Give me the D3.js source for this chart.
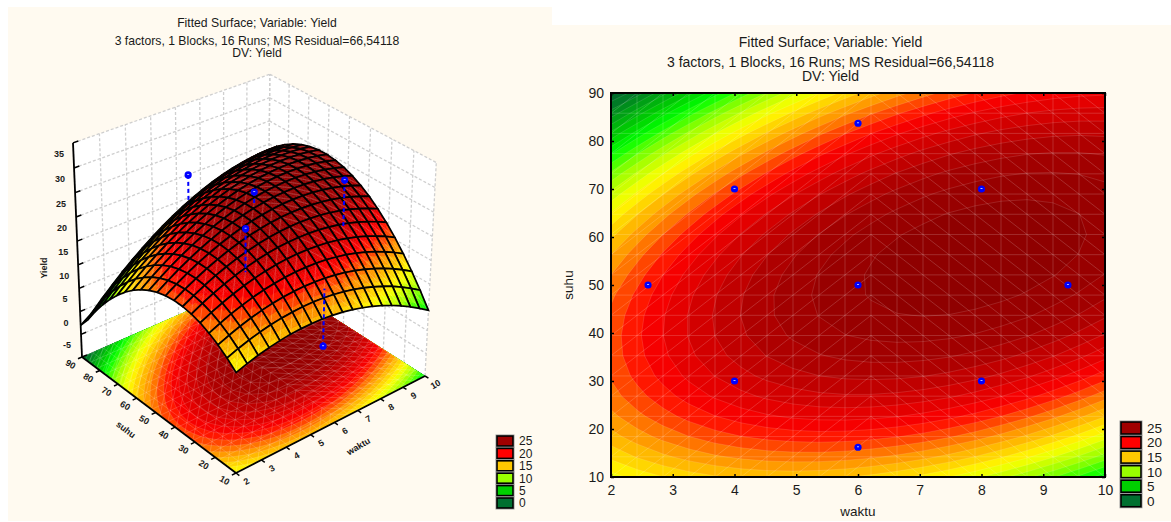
<!DOCTYPE html>
<html>
<head>
<meta charset="utf-8">
<script src="https://cdn.jsdelivr.net/npm/d3@7"></script>
<style>
  html, body { margin: 0; padding: 0; background: #fff; }
  svg { display: block; }
  text { font-family: "Liberation Sans", Arial, sans-serif; fill: #1a1a1a; }
</style>
</head>
<body>
<div class="graph"></div>
<script>
// values
const waktuNodes = 20 // mesh lines along waktu, 2..10
const suhuNodes = 20 // mesh lines along suhu, 10..90
const waktuTicks = [2, 3, 4, 5, 6, 7, 8, 9, 10]
const suhuTicks = [10, 20, 30, 40, 50, 60, 70, 80, 90]
const yieldTicks = [-10, -5, 0, 5, 10, 15, 20, 25, 30, 35]
const yieldLabels = [-5, 0, 5, 10, 15, 20, 25, 30, 35]
const legendValues = [25, 20, 15, 10, 5, 0]
const legendColors = ['#a00000', '#ff0000', '#ffc800', '#99ff00', '#00d000', '#007030']
const rampValues = [-5, -2, 3, 5, 8, 11, 13, 15, 18, 23, 26]
const rampColors = ['#00602a', '#00702a', '#00d000', '#00ff00', '#99ff00', '#ffff00', '#ffc800', '#ff8c00', '#ff0000', '#a50000', '#8a0000']
const titleLines = ['Fitted Surface; Variable: Yield', '3 factors, 1 Blocks, 16 Runs; MS Residual=66,54118', 'DV: Yield']

// one row per suhu mesh line, bottom row suhu=10, left column waktu=2
const yieldGrid = [
  [10.61, 11.36, 11.99, 12.50, 12.90, 13.17, 13.32, 13.36, 13.27, 13.06, 12.74, 12.29, 11.72, 11.03, 10.23, 9.30, 8.25, 7.09, 5.80, 4.39],
  [12.24, 13.08, 13.79, 14.38, 14.86, 15.21, 15.44, 15.55, 15.55, 15.42, 15.17, 14.80, 14.32, 13.71, 12.98, 12.13, 11.17, 10.08, 8.87, 7.54],
  [13.62, 14.53, 15.32, 15.99, 16.55, 16.98, 17.29, 17.48, 17.56, 17.51, 17.34, 17.05, 16.65, 16.12, 15.47, 14.70, 13.81, 12.81, 11.68, 10.43],
  [14.72, 15.71, 16.59, 17.34, 17.97, 18.48, 18.87, 19.15, 19.30, 19.33, 19.24, 19.04, 18.71, 18.26, 17.69, 17.00, 16.20, 15.27, 14.22, 13.05],
  [15.56, 16.63, 17.58, 18.42, 19.13, 19.72, 20.19, 20.54, 20.78, 20.89, 20.88, 20.75, 20.50, 20.14, 19.65, 19.04, 18.31, 17.46, 16.50, 15.41],
  [16.13, 17.29, 18.32, 19.23, 20.02, 20.69, 21.25, 21.68, 21.99, 22.18, 22.25, 22.20, 22.04, 21.75, 21.34, 20.81, 20.16, 19.39, 18.51, 17.50],
  [16.44, 17.67, 18.79, 19.78, 20.65, 21.40, 22.03, 22.54, 22.93, 23.21, 23.36, 23.39, 23.30, 23.09, 22.76, 22.32, 21.75, 21.06, 20.25, 19.32],
  [16.48, 17.80, 18.99, 20.06, 21.01, 21.84, 22.55, 23.14, 23.61, 23.97, 24.20, 24.31, 24.30, 24.17, 23.92, 23.55, 23.06, 22.46, 21.73, 20.88],
  [16.26, 17.65, 18.92, 20.07, 21.10, 22.02, 22.81, 23.48, 24.03, 24.46, 24.77, 24.96, 25.03, 24.98, 24.81, 24.53, 24.12, 23.59, 22.94, 22.17],
  [15.77, 17.24, 18.59, 19.82, 20.93, 21.92, 22.80, 23.55, 24.18, 24.69, 25.08, 25.35, 25.50, 25.53, 25.44, 25.23, 24.90, 24.45, 23.88, 23.20],
  [15.01, 16.56, 18.00, 19.31, 20.50, 21.57, 22.52, 23.35, 24.06, 24.65, 25.12, 25.47, 25.70, 25.81, 25.80, 25.67, 25.42, 25.05, 24.56, 23.96],
  [13.99, 15.62, 17.13, 18.52, 19.79, 20.94, 21.97, 22.89, 23.68, 24.35, 24.90, 25.33, 25.64, 25.83, 25.90, 25.85, 25.68, 25.39, 24.98, 24.45],
  [12.70, 14.41, 16.00, 17.47, 18.82, 20.05, 21.17, 22.16, 23.03, 23.78, 24.41, 24.92, 25.31, 25.58, 25.73, 25.76, 25.67, 25.46, 25.13, 24.68],
  [11.15, 12.94, 14.61, 16.16, 17.59, 18.90, 20.09, 21.16, 22.11, 22.94, 23.65, 24.24, 24.71, 25.06, 25.29, 25.40, 25.39, 25.26, 25.01, 24.64],
  [9.33, 11.20, 12.95, 14.58, 16.09, 17.48, 18.75, 19.90, 20.93, 21.84, 22.63, 23.30, 23.85, 24.28, 24.59, 24.78, 24.85, 24.80, 24.63, 24.34],
  [7.24, 9.19, 11.02, 12.73, 14.32, 15.79, 17.14, 18.37, 19.48, 20.47, 21.34, 22.09, 22.72, 23.23, 23.62, 23.89, 24.04, 24.07, 23.98, 23.77],
  [4.89, 6.92, 8.83, 10.62, 12.29, 13.84, 15.27, 16.58, 17.77, 18.84, 19.79, 20.62, 21.33, 21.91, 22.38, 22.73, 22.96, 23.07, 23.06, 22.93],
  [2.28, 4.38, 6.37, 8.24, 9.99, 11.62, 13.13, 14.52, 15.79, 16.94, 17.97, 18.88, 19.67, 20.33, 20.88, 21.31, 21.62, 21.81, 21.88, 21.83],
  [-0.61, 1.58, 3.65, 5.60, 7.43, 9.14, 10.73, 12.20, 13.54, 14.77, 15.88, 16.87, 17.74, 18.49, 19.12, 19.63, 20.01, 20.28, 20.43, 20.46],
  [-3.0, -1.49, 0.66, 2.69, 4.60, 6.39, 8.05, 9.60, 11.03, 12.34, 13.53, 14.60, 15.55, 16.38, 17.08, 17.67, 18.14, 18.49, 18.72, 18.83]
]

// the runs
const runWaktu = [2.6, 4, 4, 6, 6, 6, 8, 8, 9.4]
const runSuhu = [50, 30, 70, 16.2, 50, 83.7, 30, 70, 50]
const runYield = [15.5, 28.9, 16, 4.4, 27.1, 22.4, 30.5, 22.5, 24.3]

const svg = d3.select('.graph').append('svg').attr('width', 1171).attr('height', 522)

const levels = d3.range(-4, 26)
const ramp = d3.scaleLinear().domain(rampValues).range(rampColors).clamp(true)
const bandColor = v => ramp(Math.floor(v) + 0.5)

//contours, padded one node each way so the bands run straight through the frame
const padded = []
for (let j = -1; j <= suhuNodes; j++) {
  for (let i = -1; i <= waktuNodes; i++) {
    const ci = Math.min(Math.max(i, 0), waktuNodes - 1)
    const cj = Math.min(Math.max(j, 0), suhuNodes - 1)
    const iIn = ci + (ci - i)
    const jIn = cj + (cj - j)
    padded.push(2 * yieldGrid[cj][ci] - yieldGrid[jIn][iIn])
  }
}
const bands = d3.contours().size([waktuNodes + 2, suhuNodes + 2]).thresholds(levels)(padded)

const linePath = d3.line()

/* draw the filled bands and the light mesh, toScreen takes 0..1 fractions */
function drawBands(g, toScreen, clipId, clipPoints) {
  g.append('clipPath').attr('id', clipId).append('path').attr('d', linePath(clipPoints) + 'Z')
  const inner = g.append('g').attr('clip-path', `url(#${clipId})`)
  const tr = d3.geoTransform({
    point(x, y) {
      const p = toScreen((x - 1.5) / (waktuNodes - 1), (y - 1.5) / (suhuNodes - 1))
      this.stream.point(p[0], p[1])
    }
  })
  const path = d3.geoPath(tr)
  inner.append('path').attr('d', linePath(clipPoints) + 'Z').attr('fill', ramp(-4.5))
  inner.selectAll('path.band').data(bands).enter().append('path')
    .attr('class', 'band')
    .attr('d', path)
    .attr('fill', d => ramp(d.value + 0.5))
    .attr('stroke', '#fff')
    .attr('stroke-opacity', 0.16)
    .attr('stroke-width', 0.8)
  // mesh lines with the diagonals that flip at the middle column
  const mesh = []
  for (let k = 0; k < waktuNodes; k++) {
    mesh.push([toScreen(k / (waktuNodes - 1), 0), toScreen(k / (waktuNodes - 1), 1)])
  }
  for (let k = 0; k < suhuNodes; k++) {
    mesh.push([toScreen(0, k / (suhuNodes - 1)), toScreen(1, k / (suhuNodes - 1))])
  }
  for (let i = 0; i < waktuNodes - 1; i++) {
    for (let j = 0; j < suhuNodes - 1; j++) {
      const a0 = i / (waktuNodes - 1), a1 = (i + 1) / (waktuNodes - 1)
      const b0 = j / (suhuNodes - 1), b1 = (j + 1) / (suhuNodes - 1)
      if (i < 10) mesh.push([toScreen(a0, b0), toScreen(a1, b1)])
      else mesh.push([toScreen(a0, b1), toScreen(a1, b0)])
    }
  }
  inner.selectAll('path.mesh').data(mesh).enter().append('path')
    .attr('class', 'mesh')
    .attr('d', linePath)
    .attr('fill', 'none')
    .attr('stroke', '#fff')
    .attr('stroke-opacity', 0.19)
    .attr('stroke-width', 0.9)
}

function drawLegend(g, x, y, step, w, h, textSize) {
  const row = g.selectAll('g').data(legendValues).enter().append('g')
    .attr('transform', (d, i) => `translate(${x},${y + i * step})`)
  row.append('rect').attr('x', -1).attr('y', -1).attr('width', w + 2).attr('height', h + 2)
    .attr('fill', 'none').attr('stroke', '#9a9a9a').attr('stroke-width', 1)
  row.append('rect').attr('width', w).attr('height', h)
    .attr('fill', (d, i) => legendColors[i]).attr('stroke', '#000').attr('stroke-width', 1.6)
  row.append('text').attr('x', w + 6).attr('y', h / 2 + textSize * 0.36)
    .attr('font-size', textSize).text(d => d)
}

function drawTitle(cx, ys, size) {
  svg.append('g').selectAll('text').data(titleLines).enter().append('text')
    .attr('x', cx).attr('y', (d, i) => ys[i])
    .attr('text-anchor', 'middle').attr('font-size', size).text(d => d)
}

function drawRun(g, x, y, r) {
  g.append('circle').attr('cx', x).attr('cy', y).attr('r', r).attr('fill', '#0000ff')
  g.append('rect').attr('x', x - 1).attr('y', y - 0.9).attr('width', 2).attr('height', 0.9).attr('fill', '#b8ccff')
}

// panels
svg.append('rect').attr('x', 8).attr('y', 7).attr('width', 544).attr('height', 514).attr('fill', '#fffaf0')
svg.append('rect').attr('x', 552).attr('y', 25).attr('width', 619).attr('height', 496).attr('fill', '#fffaf0')

//---------------- right: contour plot
const xScale = d3.scaleLinear().domain([2, 10]).range([611, 1105])
const yScale = d3.scaleLinear().domain([10, 90]).range([477, 93])
const right = svg.append('g')
const planeToScreen = (a, b) => [xScale(2 + 8 * a), yScale(10 + 80 * b)]
drawBands(right, planeToScreen, 'clipPlane', [[611, 93], [1105, 93], [1105, 477], [611, 477]])

const fontAxis = sel => sel.call(g => g.select('.domain').remove())
  .call(g => g.selectAll('line').attr('stroke', '#000').attr('stroke-width', 1.5))
  .call(g => g.selectAll('text').attr('font-size', 14).attr('font-family', '"Liberation Sans", Arial, sans-serif'))

right.append('g').attr('transform', 'translate(0,477)')
  .call(d3.axisBottom(xScale).tickValues(waktuTicks).tickFormat(d3.format('d')).tickSize(-3).tickPadding(8)).call(fontAxis)
right.append('g').attr('transform', 'translate(0,93)')
  .call(d3.axisTop(xScale).tickValues(waktuTicks).tickFormat('').tickSize(-3)).call(fontAxis)
right.append('g').attr('transform', 'translate(611,0)')
  .call(d3.axisLeft(yScale).tickValues(suhuTicks).tickFormat(d3.format('d')).tickSize(-3).tickPadding(7)).call(fontAxis)
right.append('g').attr('transform', 'translate(1105,0)')
  .call(d3.axisRight(yScale).tickValues(suhuTicks).tickFormat('').tickSize(-3)).call(fontAxis)
right.append('rect').attr('x', 611).attr('y', 93).attr('width', 494).attr('height', 384)
  .attr('fill', 'none').attr('stroke', '#000').attr('stroke-width', 2)

runWaktu.forEach((w, i) => drawRun(right, xScale(w), yScale(runSuhu[i]), 3.6))

right.append('text').attr('x', 858).attr('y', 516).attr('text-anchor', 'middle').attr('font-size', 13.5).text('waktu')
right.append('text').attr('transform', 'translate(573,285) rotate(-90)').attr('text-anchor', 'middle').attr('font-size', 13.5).text('suhu')
drawTitle(830.5, [47, 67, 81], 14)
drawLegend(right.append('g'), 1121, 422, 14.55, 20, 12, 13.5)

//---------------- left: 3D surface
const aScale = d3.scaleLinear().domain([2, 10]).range([0, 1])
const bScale = d3.scaleLinear().domain([10, 90]).range([0, 1])
const cScale = d3.scaleLinear().domain([-10, 35]).range([0, 1])

//投影 perspective view of the unit box, solved from the box corners in the picture
function project(a, b, c) {
  const w = 1 + 0.08727 * a + 0.08979 * b - 0.0608 * c
  return [
    (236 + 226.09 * a - 146.64 * b - 14.24 * c) / w,
    (473 - 64.19 * a - 83.95 * b - 242 * c) / w
  ]
}
const left = svg.append('g')

// back walls
const wallA = [project(0, 1, 0), project(1, 1, 0), project(1, 1, 1), project(0, 1, 1)]
const wallB = [project(1, 1, 0), project(1, 0, 0), project(1, 0, 1), project(1, 1, 1)]
left.selectAll('path.wall').data([wallA, wallB]).enter().append('path')
  .attr('class', 'wall').attr('d', d => linePath(d) + 'Z').attr('fill', '#fff')
const wallLines = []
waktuTicks.forEach(t => wallLines.push([project(aScale(t), 1, 0), project(aScale(t), 1, 1)]))
suhuTicks.forEach(t => wallLines.push([project(1, bScale(t), 0), project(1, bScale(t), 1)]))
yieldTicks.forEach(t => {
  wallLines.push([project(0, 1, cScale(t)), project(1, 1, cScale(t))])
  wallLines.push([project(1, 1, cScale(t)), project(1, 0, cScale(t))])
})
left.selectAll('path.wallLine').data(wallLines).enter().append('path')
  .attr('class', 'wallLine').attr('d', linePath).attr('fill', 'none')
  .attr('stroke', '#cfcfcf').attr('stroke-width', 1.3).attr('stroke-dasharray', '3,2')

// floor
const floorToScreen = (a, b) => project(a, b, 0)
drawBands(left, floorToScreen, 'clipFloor', [project(0, 0, 0), project(1, 0, 0), project(1, 1, 0), project(0, 1, 0)])

// axes of the box
const axisLines = [
  [project(0, 1, 0), project(0, 1, 1)],
  [project(0, 1, 0), project(0, 0, 0)],
  [project(0, 0, 0), project(1, 0, 0)]
]
left.selectAll('path.boxAxis').data(axisLines).enter().append('path')
  .attr('class', 'boxAxis').attr('d', linePath).attr('fill', 'none').attr('stroke', '#000').attr('stroke-width', 1.8)
const tickLines = []
yieldTicks.forEach(t => tickLines.push([project(0, 1, cScale(t)), project(0.025, 1, cScale(t))]))
suhuTicks.forEach(t => tickLines.push([project(0, bScale(t), 0), project(-0.02, bScale(t), 0)]))
waktuTicks.forEach(t => tickLines.push([project(aScale(t), 0, 0), project(aScale(t), -0.02, 0)]))
left.selectAll('path.boxTick').data(tickLines).enter().append('path')
  .attr('class', 'boxTick').attr('d', linePath).attr('stroke', '#000').attr('stroke-width', 1.5)

// labels of the box axes
const label3d = (x, y, rot, txt, size) => left.append('text')
  .attr('transform', `translate(${x},${y}) rotate(${rot})`)
  .attr('text-anchor', 'middle').attr('font-size', size).attr('font-weight', 'bold').attr('fill', '#000').text(txt)
yieldLabels.forEach(t => {
  const p = project(0, 1, cScale(t))
  label3d(p[0] - 14, p[1] + 14, 0, t, 9)
})
suhuTicks.forEach(t => {
  const p = project(0, bScale(t), 0)
  label3d(p[0] - 13, p[1] + 10, 30, t, 9)
})
waktuTicks.forEach(t => {
  const p = project(aScale(t), 0, 0)
  label3d(p[0] + 12, p[1] + 11, -30, t, 9)
})
label3d(124, 432, 38, 'suhu', 9)
label3d(360, 449, -30, 'waktu', 9)
label3d(47, 268, -90, 'Yield', 9)

// surface height under a point, bilinear on the mesh
function surfaceAt(fi, fj) {
  const i = Math.min(Math.floor(fi), waktuNodes - 2)
  const j = Math.min(Math.floor(fj), suhuNodes - 2)
  const u = fi - i, v = fj - j
  return yieldGrid[j][i] * (1 - u) * (1 - v) + yieldGrid[j][i + 1] * u * (1 - v) +
    yieldGrid[j + 1][i] * (1 - u) * v + yieldGrid[j + 1][i + 1] * u * v
}

// painter list, back corner first
const painted = []
for (let j = 0; j < suhuNodes - 1; j++) {
  for (let i = 0; i < waktuNodes - 1; i++) {
    painted.push({ kind: 'cell', i, j, order: i + j })
  }
}
runWaktu.forEach((w, k) => {
  const fi = aScale(w) * (waktuNodes - 1)
  const fj = bScale(runSuhu[k]) * (suhuNodes - 1)
  const above = runYield[k] >= surfaceAt(fi, fj)
  let order = Math.floor(fi) + Math.floor(fj) + (above ? -0.25 : 0.25)
  if (fj < 2) order = -100 // close to the front edge, the original shows it through
  painted.push({ kind: 'run', k, fi, fj, above, order })
})
painted.sort((p, q) => q.order - p.order)

const SUB = 4
const surfaceG = left.append('g')
const nodePoint = (fi, fj, z) => project(fi / (waktuNodes - 1), fj / (suhuNodes - 1), cScale(z))
painted.forEach(item => {
  if (item.kind == 'run') {
    const a = aScale(runWaktu[item.k]), b = bScale(runSuhu[item.k])
    const top = project(a, b, cScale(runYield[item.k]))
    const foot = project(a, b, cScale(surfaceAt(item.fi, item.fj)))
    surfaceG.append('path').attr('d', linePath([top, foot]))
      .attr('stroke', '#0000ff').attr('stroke-width', 2).attr('stroke-dasharray', '4,3')
    drawRun(surfaceG, top[0], top[1], 3.6)
    return
  }
  const { i, j } = item
  const cell = surfaceG.append('g')
  for (let m = 0; m < SUB; m++) {
    for (let n = 0; n < SUB; n++) {
      const u0 = i + m / SUB, u1 = i + (m + 1) / SUB
      const v0 = j + n / SUB, v1 = j + (n + 1) / SUB
      const quad = [[u0, v0], [u1, v0], [u1, v1], [u0, v1]]
      const heights = quad.map(q => surfaceAt(q[0], q[1]))
      const col = bandColor(d3.mean(heights))
      cell.append('path')
        .attr('d', linePath(quad.map((q, h) => nodePoint(q[0], q[1], heights[h]))) + 'Z')
        .attr('fill', col).attr('stroke', col).attr('stroke-width', 0.5)
    }
  }
  const corners = [[i, j], [i + 1, j], [i + 1, j + 1], [i, j + 1]].map(q => nodePoint(q[0], q[1], yieldGrid[q[1]][q[0]]))
  cell.append('path').attr('d', linePath(i < 10 ? [corners[0], corners[2]] : [corners[1], corners[3]]))
    .attr('stroke', '#fff').attr('stroke-opacity', 0.25).attr('stroke-width', 0.8)
  cell.append('path').attr('d', linePath(corners) + 'Z')
    .attr('fill', 'none').attr('stroke', '#000').attr('stroke-width', 1.7)
})

drawTitle(257, [27, 45, 57], 12.2)
drawLegend(left.append('g'), 497, 436, 12.4, 16, 10, 12)
</script>
</body>
</html>
